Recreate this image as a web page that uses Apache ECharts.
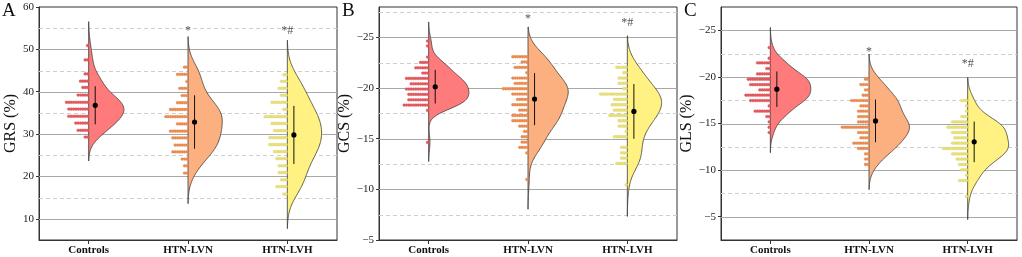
<!DOCTYPE html>
<html>
<head>
<meta charset="utf-8">
<script src="https://cdn.jsdelivr.net/npm/echarts@6/dist/echarts.min.js"></script>
<style>
  html, body { margin: 0; padding: 0; background: #fff; }
  #chart { width: 1022px; height: 257px; }
</style>
</head>
<body>
<div id="chart"></div>
<script>
const groups = ['Controls', 'HTN-LVN', 'HTN-LVH'];

// GRS (panel A): dot rows (value of the row) and number of dots in each row
const grsControlsBins = [29.3, 30.9, 32.6, 34.2, 35.9, 37.5, 39.2, 41.0, 42.5, 44.2, 47.5, 50.9];
const grsControlsCounts = [2, 5, 6, 9, 9, 10, 5, 3, 4, 2, 2, 1];
const grsLvnBins = [20.8, 22.5, 24.1, 25.8, 27.4, 29.1, 30.7, 32.4, 34.1, 35.8, 37.4, 39.1, 40.8, 42.4, 44.1, 45.8];
const grsLvnCounts = [2, 2, 3, 7, 6, 7, 8, 5, 10, 8, 5, 3, 4, 1, 5, 2];
const grsLvhBins = [15.85, 17.6, 19.2, 20.9, 22.5, 24.2, 25.85, 27.5, 29.15, 30.8, 32.5, 34.1, 35.85, 37.5, 39.15, 40.8, 42.45, 44.0];
const grsLvhCounts = [2, 5, 3, 4, 4, 5, 6, 8, 8, 6, 7, 10, 2, 7, 3, 4, 3, 2];
const grsMean = [36.8, 32.85, 29.8];
const grsSd = [4.5, 6.3, 6.85];
const grsSig = ['', '*', '*#'];
const grsSigY = [null, 54.3, 54.3];

// GCS (panel B)
const gcsControlsBins = [-24.64, -24.15, -23.06, -22.53, -22.0, -21.48, -20.95, -20.42, -19.9, -19.37, -18.84, -18.32, -17.79, -14.63];
const gcsControlsCounts = [1, 1, 1, 4, 6, 3, 10, 8, 10, 9, 9, 11, 1, 1];
const gcsLvnBins = [-23.09, -22.57, -22.04, -21.51, -20.98, -20.46, -19.93, -19.4, -18.88, -18.35, -17.82, -17.29, -16.77, -16.24, -15.72, -15.19, -14.66, -14.14, -13.6, -10.97];
const gcsLvnCounts = [7, 3, 6, 1, 7, 6, 11, 7, 5, 7, 4, 7, 7, 4, 2, 3, 3, 4, 1, 1];
const gcsLvhBins = [-22.04, -21.51, -20.98, -20.46, -19.93, -19.4, -18.88, -18.35, -17.82, -17.29, -16.77, -16.24, -15.72, -15.19, -14.14, -13.6, -13.08, -12.55, -10.44];
const gcsLvhCounts = [5, 2, 4, 4, 2, 12, 6, 7, 6, 8, 4, 4, 1, 6, 3, 3, 3, 5, 1];
const gcsMean = [-20.13, -18.91, -17.69];
const gcsSd = [1.66, 2.57, 2.7];
const gcsSig = ['', '*', '*#'];
const gcsSigY = [null, -26.8, -26.4];

// GLS (panel C)
const glsControlsBins = [-23.14, -22.0, -21.5, -20.89, -20.32, -19.75, -19.17, -18.6, -18.04, -17.46, -16.89, -16.32, -15.74, -15.17, -14.6, -14.03];
const glsControlsCounts = [1, 1, 6, 2, 6, 10, 9, 5, 11, 9, 1, 7, 2, 1, 1, 1];
const glsLvnBins = [-19.75, -19.18, -18.6, -18.03, -17.46, -16.89, -16.32, -15.74, -15.17, -14.6, -14.03, -13.46, -12.89, -12.32, -11.74, -11.18, -10.6];
const glsLvnCounts = [2, 4, 2, 3, 8, 4, 5, 5, 5, 12, 5, 4, 7, 5, 2, 2, 2];
const glsLvhBins = [-17.46, -16.89, -16.32, -15.74, -15.17, -14.6, -14.03, -13.46, -12.89, -12.32, -11.74, -11.18, -10.6, -10.03, -9.46, -8.88, -7.17];
const glsLvhCounts = [3, 1, 1, 3, 7, 9, 7, 6, 7, 11, 7, 5, 4, 3, 1, 4, 1];
const glsMean = [-18.68, -15.28, -13.03];
const glsSd = [1.9, 2.29, 2.18];
const glsSig = ['', '*', '*#'];
const glsSigY = [null, -22.7, -21.4];

// axis ticks and grid lines
const grsTicks = [10, 20, 30, 40, 50, 60];
const grsSolid = [10, 20, 30, 40, 50];
const grsDashed = [15, 25, 35, 45, 55];
const gcsTicks = [-25, -20, -15, -10, -5];
const gcsSolid = [-25, -20, -15, -10];
const gcsDashed = [-27.5, -22.5, -17.5, -12.5, -7.5];
const glsTicks = [-25, -20, -15, -10, -5];
const glsSolid = [-25, -20, -15, -10, -5];
const glsDashed = [-22.5, -17.5, -12.5, -7.5];

const FONT = '"Liberation Serif", "Times New Roman", serif';
const violinFill = ['#ff7b7b', '#fdb07f', '#fff283'];
const dotFill = ['#e0575c', '#e98b50', '#ebe37e'];
const dotStroke = ['#e0575c', '#e98b50', '#d6cd5c'];
const dotStep = 0.0235;
const meanShift = 0.066;

const panels = [
  { letter: 'A', name: 'GRS (%)', min: 5, max: 60, inverse: false, left: 39, width: 298,
    bins: [grsControlsBins, grsLvnBins, grsLvhBins], counts: [grsControlsCounts, grsLvnCounts, grsLvhCounts],
    mean: grsMean, sd: grsSd, sig: grsSig, sigY: grsSigY, ticks: grsTicks, solid: grsSolid, dashed: grsDashed,
    widths: [0.355, 0.345, 0.345] },
  { letter: 'B', name: 'GCS (%)', min: -28, max: -5, inverse: true, left: 379, width: 298,
    bins: [gcsControlsBins, gcsLvnBins, gcsLvhBins], counts: [gcsControlsCounts, gcsLvnCounts, gcsLvhCounts],
    mean: gcsMean, sd: gcsSd, sig: gcsSig, sigY: gcsSigY, ticks: gcsTicks, solid: gcsSolid, dashed: gcsDashed,
    widths: [0.405, 0.405, 0.345] },
  { letter: 'C', name: 'GLS (%)', min: -27.5, max: -2.5, inverse: true, left: 721, width: 296,
    bins: [glsControlsBins, glsLvnBins, glsLvhBins], counts: [glsControlsCounts, glsLvnCounts, glsLvhCounts],
    mean: glsMean, sd: glsSd, sig: glsSig, sigY: glsSigY, ticks: glsTicks, solid: glsSolid, dashed: glsDashed,
    widths: [0.41, 0.41, 0.415] }
];

function expand(bins, counts) {
  const out = [];
  bins.forEach((b, i) => { for (let k = 0; k < counts[i]; k++) out.push(b); });
  return out;
}

// half violin outline from a gaussian kde (scott bandwidth), cut at 2.6 bandwidths
function violinOutline(vals, center, halfW) {
  const n = vals.length;
  const mean = vals.reduce((a, b) => a + b, 0) / n;
  const sd = Math.sqrt(vals.reduce((a, b) => a + (b - mean) * (b - mean), 0) / (n - 1));
  const s = vals.slice().sort((a, b) => a - b);
  const h = 1.06 * sd * Math.pow(n, -0.2);
  const lo = s[0] - 2.6 * h, hi = s[n - 1] + 2.6 * h;
  const N = 160, ys = [], ds = [];
  for (let i = 0; i <= N; i++) {
    const y = lo + (hi - lo) * i / N;
    let d = 0;
    for (const v of vals) { const z = (y - v) / h; d += Math.exp(-0.5 * z * z); }
    ys.push(y); ds.push(d);
  }
  const dmax = Math.max(...ds);
  const pts = [[center, lo]];
  ys.forEach((y, i) => pts.push([center + halfW * ds[i] / dmax, y]));
  pts.push([center, hi]);
  return pts;
}

function dotPoints(bins, counts, center) {
  const pts = [];
  bins.forEach((b, i) => {
    for (let k = 0; k < counts[i]; k++) pts.push([center - (k + 0.5) * dotStep, b]);
  });
  return pts;
}

const grid = [], xAxis = [], yAxis = [], series = [], graphic = [];

panels.forEach((p, pi) => {
  grid.push({ left: p.left, width: p.width, top: 7, height: 233, show: true, borderColor: '#333', borderWidth: 1 });
  xAxis.push({
    gridIndex: pi, type: 'value', min: 0.5, max: 3.5,
    axisLine: { lineStyle: { color: '#333' } },
    axisTick: { customValues: [1, 2, 3], length: 4, lineStyle: { color: '#333' } },
    axisLabel: { customValues: [1, 2, 3], formatter: v => groups[Math.round(v) - 1],
      fontFamily: FONT, fontWeight: 'bold', fontSize: 11, color: '#111', margin: 5 },
    splitLine: { show: false }
  });
  yAxis.push({
    gridIndex: pi, type: 'value', min: p.min, max: p.max, inverse: p.inverse,
    name: p.name, nameLocation: 'middle', nameGap: 20,
    nameTextStyle: { fontFamily: FONT, fontSize: 16, color: '#111' },
    axisLine: { show: true, lineStyle: { color: '#333' } },
    axisTick: { show: true, customValues: p.ticks, length: 3, lineStyle: { color: '#333' } },
    axisLabel: { customValues: p.ticks, formatter: v => String(v).replace('-', '\u2212'),
      fontFamily: FONT, fontSize: 11, color: '#222', margin: 5 },
    splitLine: { show: false }
  });

  const lineSeries = (vals, dashed) => ({
    type: 'custom', xAxisIndex: pi, yAxisIndex: pi, z: 1, silent: true,
    data: vals.map(v => [0.5, v]),
    renderItem: (params, api) => {
      const a = api.coord([0.5, api.value(1)]), b = api.coord([3.5, api.value(1)]);
      const y = Math.round(a[1]) + 0.5;
      return { type: 'line', shape: { x1: a[0], y1: y, x2: b[0], y2: y },
        style: { stroke: dashed ? '#cfcfcf' : '#a8a8a8', lineWidth: 1, lineDash: dashed ? [4, 3] : null } };
    }
  });
  series.push(lineSeries(p.solid, false));
  series.push(lineSeries(p.dashed, true));

  const outlines = groups.map((g, i) => violinOutline(expand(p.bins[i], p.counts[i]), i + 1, p.widths[i]));
  series.push({
    type: 'custom', xAxisIndex: pi, yAxisIndex: pi, z: 2, silent: true,
    data: groups.map((g, i) => [i + 1, p.mean[i]]),
    renderItem: (params, api) => {
      const i = params.dataIndex;
      const pts = outlines[i].map(pt => api.coord(pt));
      return { type: 'polygon', shape: { points: pts },
        style: { fill: violinFill[i], stroke: '#3a3a3a', lineWidth: 0.8 } };
    }
  });

  groups.forEach((g, i) => {
    series.push({
      type: 'scatter', xAxisIndex: pi, yAxisIndex: pi, z: 3, silent: true,
      symbol: 'circle', symbolSize: 2.8,
      itemStyle: { color: dotFill[i], borderColor: dotStroke[i], borderWidth: 0.4, opacity: 1 },
      data: dotPoints(p.bins[i], p.counts[i], i + 1)
    });
  });

  series.push({
    type: 'custom', xAxisIndex: pi, yAxisIndex: pi, z: 4, silent: true,
    data: groups.map((g, i) => [i + 1 + meanShift, p.mean[i], p.sd[i]]),
    renderItem: (params, api) => {
      const x = api.value(0), m = api.value(1), s = api.value(2);
      const top = api.coord([x, m - s]), bot = api.coord([x, m + s]), c = api.coord([x, m]);
      return { type: 'group', children: [
        { type: 'line', shape: { x1: c[0], y1: top[1], x2: c[0], y2: bot[1] }, style: { stroke: '#111', lineWidth: 1 } },
        { type: 'circle', shape: { cx: c[0], cy: c[1], r: 2.6 }, style: { fill: '#000' } }
      ] };
    }
  });

  series.push({
    type: 'custom', xAxisIndex: pi, yAxisIndex: pi, z: 5, silent: true,
    data: groups.map((g, i) => [i + 1, p.sigY[i] == null ? p.mean[i] : p.sigY[i]]),
    renderItem: (params, api) => {
      const i = params.dataIndex;
      if (!p.sig[i]) return null;
      const c = api.coord([api.value(0), api.value(1)]);
      return { type: 'text', x: c[0], y: c[1],
        style: { text: p.sig[i], fill: '#555', fontSize: 12, fontFamily: FONT, align: 'center', verticalAlign: 'middle' } };
    }
  });

  graphic.push({ type: 'text', left: p.left - 37, top: 2,
    style: { text: p.letter, fontSize: 19, fontFamily: FONT, fill: '#111' } });
});

const chart = echarts.init(document.getElementById('chart'), null, { renderer: 'canvas' });
chart.setOption({
  animation: false,
  backgroundColor: '#fff',
  grid, xAxis, yAxis, series, graphic
});
</script>
</body>
</html>
